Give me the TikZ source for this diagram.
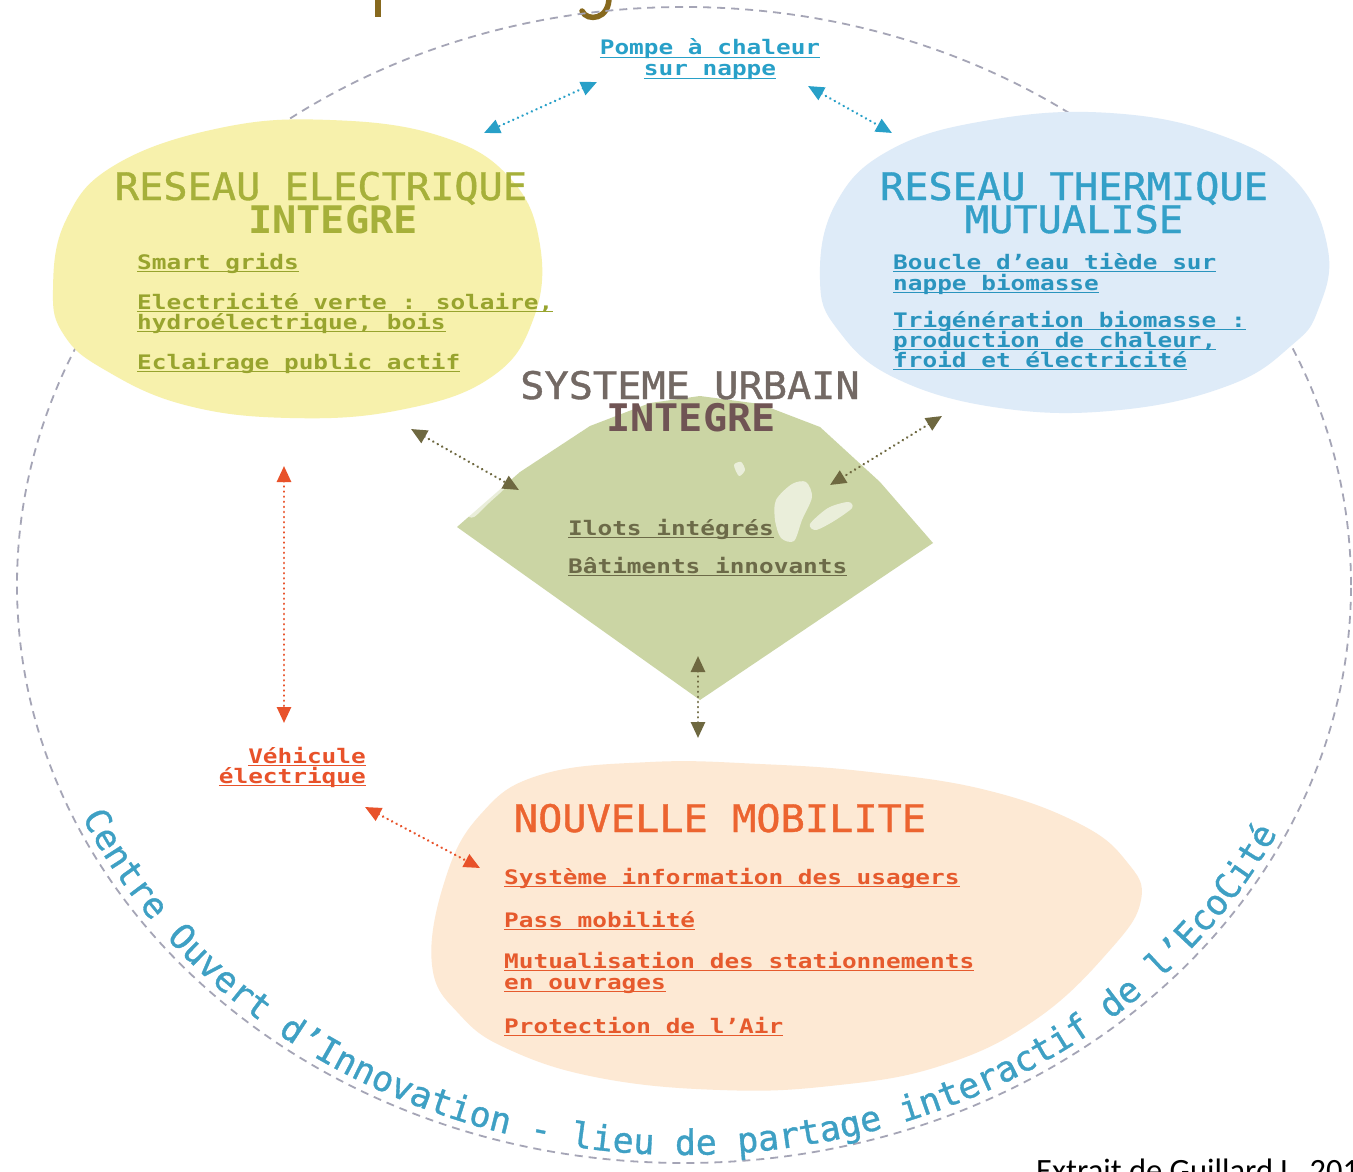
\documentclass[tikz,border=0pt]{standalone}
\usepackage{fontspec}
\usetikzlibrary{arrows.meta,decorations.text}
\newfontfamily\ttlfont[FakeStretch=1.06,FakeBold=1]{DejaVu Sans Mono}
\newfontfamily\ttlboldfont[FakeStretch=1.06]{DejaVu Sans Mono}
\newfontfamily\itmfont[FakeStretch=1.22]{DejaVu Sans Mono}
\newfontfamily\circfont[FakeBold=1]{DejaVu Sans Mono}
\newfontfamily\citefont{Carlito}
\definecolor{yblob}{RGB}{247,241,172}
\definecolor{bblob}{RGB}{222,235,248}
\definecolor{oblob}{RGB}{253,233,212}
\definecolor{gdiam}{RGB}{203,213,164}
\definecolor{ytitle}{RGB}{166,176,58}
\definecolor{yitem}{RGB}{152,164,46}
\definecolor{btitle}{RGB}{52,160,200}
\definecolor{bitem}{RGB}{42,148,190}
\definecolor{utitle}{RGB}{115,105,100}
\definecolor{utitleb}{RGB}{112,84,84}
\definecolor{uitem}{RGB}{108,106,72}
\definecolor{uarr}{RGB}{110,104,64}
\definecolor{otitle}{RGB}{236,100,48}
\definecolor{oitem}{RGB}{230,90,45}
\definecolor{oarr}{RGB}{232,82,42}
\definecolor{barr}{RGB}{40,160,200}
\definecolor{circblue}{RGB}{62,160,196}
\definecolor{circline}{RGB}{165,165,182}
\definecolor{topcol}{RGB}{135,105,30}
\newcommand\myul[1]{\setbox0=\hbox{#1}\rlap{\rule[-3.4pt]{\wd0}{1.4pt}}\box0}
\begin{document}
\begin{tikzpicture}[x=1pt,y=-1pt,
  ttl/.style={font=\ttlfont\fontsize{38}{40}\selectfont, inner sep=0pt, anchor=base},
  ttlb/.style={font=\ttlboldfont\bfseries\fontsize{38}{40}\selectfont, inner sep=0pt, anchor=base},
  itm/.style={font=\itmfont\bfseries\fontsize{20}{22}\selectfont, inner sep=0pt, anchor=base west},
  biarr/.style={{Triangle[length=16pt,width=14pt]}-{Triangle[length=16pt,width=14pt]},
     line width=2.6pt, line cap=round, dash pattern=on 0.1pt off 5pt, draw=#1},
  circ/.style={draw=circline, line width=1.8pt, dash pattern=on 8pt off 6pt},
  speck/.style={fill=white, opacity=0.6}]
\useasboundingbox (0,0) rectangle (1353,1172);
\clip (0,0) rectangle (1353,1172);
\fill[white] (0,0) rectangle (1353,1172);

% fragments of the cut-off title
\fill[topcol] (375,-2) rectangle (381,17);
\draw[topcol, line width=5.5pt, line cap=round] (609,-4) .. controls (610,20) and (587,22) .. (582,11);

% dashed outer ellipse
\draw[circ] (684,585) ellipse [x radius=667pt, y radius=578pt];

% blobs
\fill[yblob] plot[smooth cycle, tension=0.7] coordinates {(53,290) (66,220) (115,165) (220,128) (330,120) (440,136) (510,178) (540,245) (533,320) (490,378) (400,410) (290,418) (185,405) (105,370) (64,335)};
\fill[bblob] plot[smooth cycle, tension=0.7] coordinates {(820,280) (835,205) (890,150) (990,120) (1110,113) (1220,135) (1295,180) (1328,250) (1318,310) (1292,345) (1230,385) (1120,410) (1000,408) (895,378) (838,330)};
\fill[oblob] plot[smooth cycle, tension=0.7] coordinates {(432,965) (445,880) (480,815) (540,775) (650,762) (760,764) (870,772) (986,790) (1080,824) (1127,862) (1141,900) (1110,950) (1035,1020) (940,1066) (830,1086) (720,1090) (600,1078) (510,1050) (460,1015)};

% diamond (systeme urbain)
\fill[gdiam] (457,527) -- (520,472) -- (590,426) -- (650,403) -- (700,396) -- (760,404) -- (820,427) -- (880,482) -- (933,543) -- (700,700) -- cycle;
\fill[speck] plot[smooth cycle] coordinates {(776,500) (792,484) (806,482) (812,497) (802,520) (794,541) (781,538) (775,520)};
\fill[speck] plot[smooth cycle] coordinates {(810,524) (828,508) (848,502) (852,508) (834,521) (816,530)};
\fill[speck] plot[smooth cycle] coordinates {(734,465) (741,462) (745,470) (739,476)};
\fill[speck] plot[smooth cycle] coordinates {(468,514) (486,497) (503,482) (507,486) (489,503) (474,517)};

% text along the circle
\path[decorate, decoration={text along path, text align=left, text color=circblue,
  text={|\circfont\fontsize{35}{35}\selectfont|Centre Ouvert d’Innovation - lieu de partage interactif de l’EcoCité}}]
  plot[domain=156:16, samples=120, smooth] ({684+659*cos(\x)},{585+570*sin(\x)});

% Pompe a chaleur
\node[itm, anchor=base, barr] (pac1) at (710,55) {\myul{Pompe à chaleur}};
\node[itm, anchor=base, barr] (pac2) at (710,76) {\myul{sur nappe}};

% Reseau electrique
\node[ttl, ytitle] (elT1) at (321,200) {RESEAU ELECTRIQUE};
\node[ttlb, ytitle] (elT2) at (333,233) {INTEGRE};
\node[itm, yitem] (el1) at (137,269) {\myul{Smart grids}};
\node[itm, yitem] (el2a) at (137,309) {\myul{Electricité verte : solaire,}};
\node[itm, yitem] (el2b) at (137,329) {\myul{hydroélectrique, bois}};
\node[itm, yitem] (el3) at (137,369) {\myul{Eclairage public actif}};

% Reseau thermique
\node[ttl, btitle] (thT1) at (1074,200) {RESEAU THERMIQUE};
\node[ttl, btitle] (thT2) at (1074,233) {MUTUALISE};
\node[itm, bitem] (th1a) at (893,269) {\myul{Boucle d’eau tiède sur}};
\node[itm, bitem] (th1b) at (893,290) {\myul{nappe biomasse}};
\node[itm, bitem] (th2a) at (893,327) {\myul{Trigénération biomasse :}};
\node[itm, bitem] (th2b) at (893,347) {\myul{production de chaleur,}};
\node[itm, bitem] (th2c) at (893,367) {\myul{froid et électricité}};

% Systeme urbain
\node[ttl, utitle] (suT1) at (690,399) {SYSTEME URBAIN};
\node[ttlb, utitleb] (suT2) at (691,431) {INTEGRE};
\node[itm, uitem] (su1) at (568,535) {\myul{Ilots intégrés}};
\node[itm, uitem] (su2) at (568,573) {\myul{Bâtiments innovants}};

% Vehicule electrique
\node[itm, anchor=base east, oarr] (ve1) at (366,763) {\myul{Véhicule}};
\node[itm, anchor=base east, oarr] (ve2) at (366,783) {\myul{électrique}};

% Nouvelle mobilite
\node[ttl, otitle] (nmT) at (720,832) {NOUVELLE MOBILITE};
\node[itm, oitem] (nm1) at (504,884) {\myul{Système information des usagers}};
\node[itm, oitem] (nm2) at (504,927) {\myul{Pass mobilité}};
\node[itm, oitem] (nm3a) at (504,968) {\myul{Mutualisation des stationnements}};
\node[itm, oitem] (nm3b) at (504,989) {\myul{en ouvrages}};
\node[itm, oitem] (nm4) at (504,1033) {\myul{Protection de l’Air}};

% citation
\node[font=\citefont\fontsize{32.5}{34}\selectfont, anchor=base west, inner sep=0pt] (cite) at (1036,1181) {Extrait de Guillard L. 2011};

% arrow end points
\coordinate (pacL1) at (597,82);  \coordinate (pacL2) at (484,133);
\coordinate (pacR1) at (808,86);  \coordinate (pacR2) at (892,133);
\coordinate (suL1) at (411,429);  \coordinate (suL2) at (519,490);
\coordinate (suR1) at (942,416);  \coordinate (suR2) at (830,485);
\coordinate (suB1) at (698,656);  \coordinate (suB2) at (698,738);
\coordinate (veV1) at (284,466);  \coordinate (veV2) at (284,723);
\coordinate (veD1) at (365,807);  \coordinate (veD2) at (480,868);

\draw[biarr=barr] (pacL1) -- (pacL2);
\draw[biarr=barr] (pacR1) -- (pacR2);
\draw[biarr=uarr] (suL1) -- (suL2);
\draw[biarr=uarr] (suR1) -- (suR2);
\draw[biarr=uarr] (suB1) -- (suB2);
\draw[biarr=oarr] (veV1) -- (veV2);
\draw[biarr=oarr] (veD1) -- (veD2);
\end{tikzpicture}
\end{document}
